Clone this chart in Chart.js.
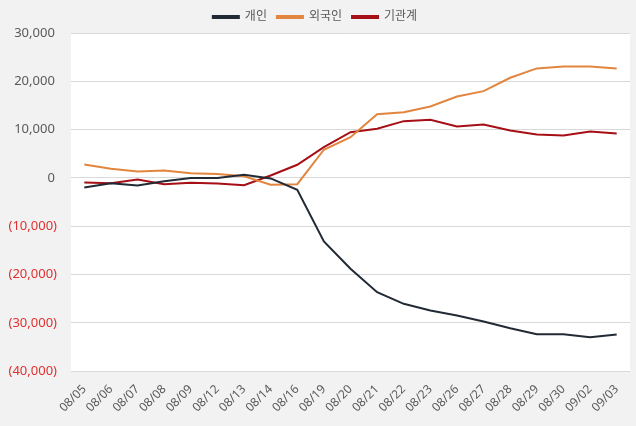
<!DOCTYPE html>
<html>
<head>
<meta charset="utf-8">
<script src="https://cdn.jsdelivr.net/npm/chart.js"></script>
<style>
  body { margin: 0; background: #f2f2f2; }
  #wrap { width: 636px; height: 426px; }
</style>
</head>
<body>
<div id="wrap"><canvas id="flowChart" width="636" height="426"></canvas></div>
<script>
// ====== 데이터 ======
const dates = ["08/05","08/06","08/07","08/08","08/09","08/12","08/13","08/14","08/16","08/19",
  "08/20","08/21","08/22","08/23","08/26","08/27","08/28","08/29","08/30","09/02","09/03"];
const individual = [-1970, -1080, -1550, -700, 0, 0, 660, -100, -2450, -13150,
  -18800, -23640, -26050, -27430, -28470, -29710, -31090, -32330, -32330, -32950, -32400];
const foreigner = [2800, 1900, 1350, 1550, 1000, 800, 370, -1400, -1280, 5840,
  8450, 13210, 13620, 14800, 16870, 17970, 20740, 22670, 23080, 23080, 22670];
const institution = [-930, -1080, -310, -1280, -1000, -1140, -1490, 500, 2730, 6380,
  9480, 10190, 11760, 12050, 10660, 11080, 9830, 9000, 8800, 9630, 9210];

const FONT = "'Noto Sans', 'Noto Sans CJK KR', sans-serif";

// vùng vẽ nền trắng
const plotBg = {
  id: "plotBg",
  beforeDraw(chart) {
    const { ctx, chartArea: a } = chart;
    ctx.save();
    ctx.fillStyle = "#ffffff";
    ctx.fillRect(a.left, a.top, a.right - a.left, a.bottom - a.top);
    ctx.restore();
  }
};

// legend: khoảng cách ngang rộng nhưng chiều cao cố định
const legendHeight = {
  id: "legendHeight",
  afterInit(chart) {
    const lg = chart.legend;
    if (!lg) return;
    const fit = lg.fit.bind(lg);
    lg.fit = function () { fit(); this.height = 32; };
  }
};

function mkSet(label, data, color) {
  return {
    label, data,
    borderColor: color,
    backgroundColor: color,
    borderWidth: 2,
    pointRadius: 0,
    tension: 0
  };
}

new Chart(document.getElementById("flowChart"), {
  type: "line",
  data: {
    labels: dates,
    datasets: [
      mkSet("개인", individual, "#222a35"),
      mkSet("외국인", foreigner, "#e2853f"),
      mkSet("기관계", institution, "#a50f15")
    ]
  },
  options: {
    responsive: false,
    animation: false,
    layout: { padding: { left: 0, right: 6, top: 1, bottom: 8 } },
    plugins: {
      legend: {
        position: "top",
        labels: {
          font: { family: FONT, size: 12 },
          color: "#595959",
          boxWidth: 26,
          boxHeight: 2,
          padding: 10
        }
      },
      tooltip: { enabled: false }
    },
    scales: {
      x: {
        offset: true,
        grid: { display: false },
        border: { display: false },
        ticks: {
          font: { family: FONT, size: 12 },
          color: "#595959",
          maxRotation: 45,
          minRotation: 45,
          autoSkip: false
        }
      },
      y: {
        min: -40000,
        max: 30000,
        afterFit: (s) => { s.width = 71; },
        grid: { color: "#d9d9d9", drawTicks: false },
        border: { display: false },
        ticks: {
          stepSize: 10000,
          padding: 14,
          font: { family: FONT, size: 13 },
          color: (c) => (c.tick && c.tick.value < 0 ? "#e0302f" : "#595959"),
          callback: (v) => v < 0 ? "(" + Math.abs(v).toLocaleString("en-US") + ")" : v.toLocaleString("en-US") + "\u2009"
        }
      }
    }
  },
  plugins: [plotBg, legendHeight]
});
</script>
</body>
</html>
